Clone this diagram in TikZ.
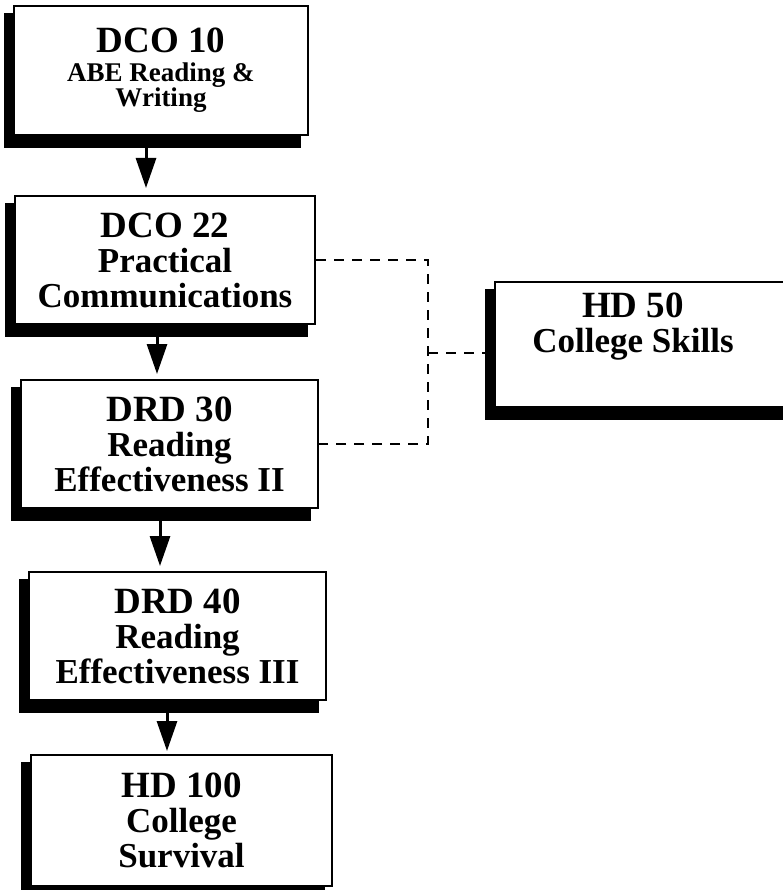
\documentclass[tikz,border=0pt]{standalone}
\usepackage{fontspec}
\setmainfont{Liberation Serif}
\usetikzlibrary{arrows.meta,backgrounds}

\newcommand\coursecode[1]{{\fontsize{37}{35}\selectfont #1}}
\newcommand\smallline[1]{{\fontsize{27}{22}\selectfont #1}}

\begin{document}
\begin{tikzpicture}[x=1pt,y=-1pt,
  course/.style={draw, line width=2pt, fill=white, align=center, inner sep=0pt,
    font=\bfseries\fontsize{35}{35}\selectfont},
  flow/.style={line width=3pt, -{Triangle[width=20pt,length=30pt]}},
  link/.style={line width=2.4pt, dash pattern=on 10pt off 8pt}]
\useasboundingbox (0,0) rectangle (783,890);
\clip (0,0) rectangle (783,890);

\node[course, minimum width=294pt, minimum height=129pt] (dco10) at (161,70.5)
  {\coursecode{DCO 10}\\[-6pt]\smallline{ABE Reading \&}\\[-10pt]\smallline{Writing}};
\node[course, minimum width=300pt, minimum height=128pt] (dco22) at (165,260)
  {\coursecode{DCO 22}\\Practical\\Communications};
\node[course, minimum width=297pt, minimum height=128pt] (drd30) at (169.5,444)
  {\coursecode{DRD 30}\\Reading\\Effectiveness II};
\node[course, minimum width=297pt, minimum height=128pt] (drd40) at (177.5,636)
  {\coursecode{DRD 40}\\Reading\\Effectiveness III};
\node[course, minimum width=301pt, minimum height=131pt] (hd100) at (181.5,820.5)
  {\coursecode{HD 100}\\College\\Survival};
\node[course, minimum width=305pt, minimum height=125pt] (hd50) at (647.5,344.5) {};
\node[course, draw=none, fill=none] (hd50txt) at (633,327)
  {\coursecode{HD 50}\\College Skills};

\begin{scope}[on background layer]
\foreach \n in {dco10,dco22,drd30,drd40,hd100,hd50}
  \fill ([xshift=-9pt,yshift=-8pt]\n.north west) rectangle ([xshift=-8pt,yshift=-12pt]\n.south east);
\end{scope}

\draw[flow] ([xshift=-15pt,yshift=-10pt]dco10.south) -- ([xshift=-19pt,yshift=7pt]dco22.north);
\draw[flow] ([xshift=-8pt,yshift=-12pt]dco22.south) -- ([xshift=-12.5pt,yshift=5pt]drd30.north);
\draw[flow] ([xshift=-9.5pt,yshift=-12pt]drd30.south) -- ([xshift=-17.5pt,yshift=5pt]drd40.north);
\draw[flow] ([xshift=-10.5pt,yshift=-12pt]drd40.south) -- ([xshift=-14.5pt,yshift=3pt]hd100.north);

\coordinate (join) at (428,353);
\draw[link] (dco22.east) -| (join) |- (drd30.east);
\draw[link, shorten >=9pt] (join) -- (join -| hd50.west);
\end{tikzpicture}
\end{document}
